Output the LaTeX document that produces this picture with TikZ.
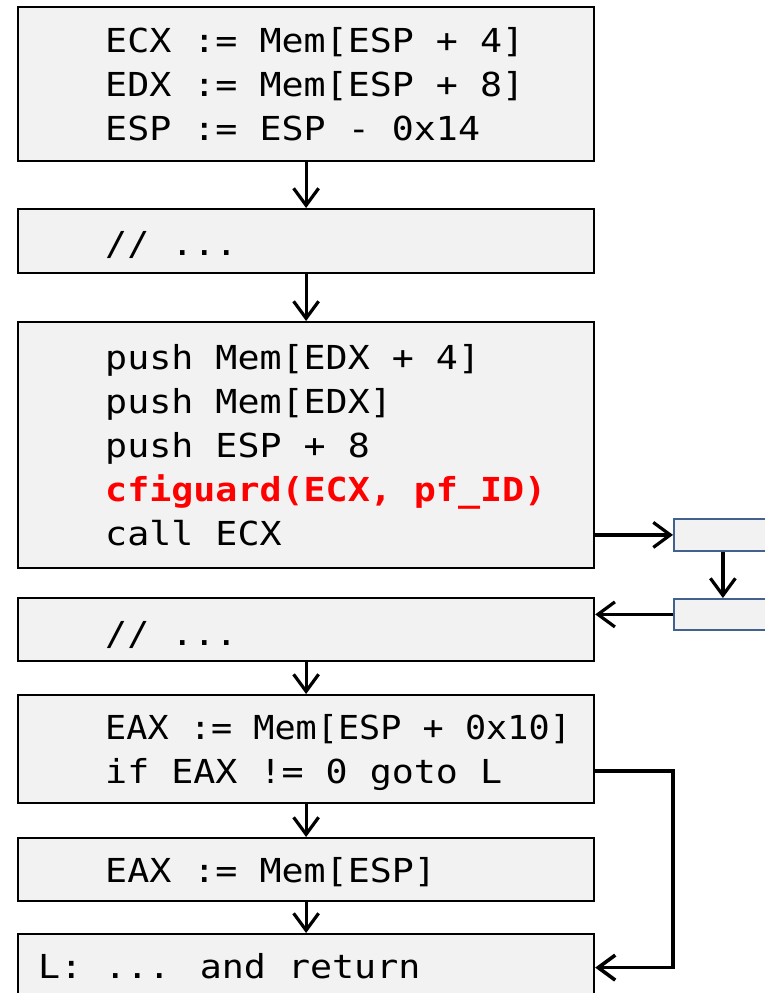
\documentclass[tikz,border=0pt]{standalone}
\usepackage{fontspec}
\usepackage{graphicx}
\usetikzlibrary{arrows.meta}
\newfontfamily\codefont[FakeStretch=1.11]{DejaVu Sans Mono}
\definecolor{boxfill}{HTML}{F2F2F2}
\definecolor{callborder}{HTML}{41618F}
\definecolor{guardred}{HTML}{FF0000}
\begin{document}
\begin{tikzpicture}[x=1pt,y=-1pt,
  block/.style={draw=black, fill=boxfill, line width=2.2pt, minimum width=576pt,
    inner sep=0pt, anchor=north west},
  callbox/.style={draw=callborder, fill=boxfill, line width=1.8pt, minimum width=98pt,
    minimum height=32pt, inner sep=0pt, anchor=north west},
  code/.style={anchor=base west, inner sep=0pt, font=\codefont\fontsize{33}{44}\selectfont},
  arr/.style={line width=3.2pt, -{Straight Barb[length=17pt,width=25pt]}}
]
\useasboundingbox (0,0) rectangle (765,993);
\clip (0,0) rectangle (765,993);

% basic blocks
\node[block, minimum height=154pt] (b1) at (17,6) {};
\node[block, minimum height=64pt]  (b2) at (17,208) {};
\node[block, minimum height=246pt] (b3) at (17,321) {};
\node[block, minimum height=63pt]  (b4) at (17,597) {};
\node[block, minimum height=108pt] (b5) at (17,694) {};
\node[block, minimum height=63pt]  (b6) at (17,837) {};
\node[block, minimum height=67pt]  (b7) at (17,933) {};

% callee blocks
\node[callbox] (ca) at (673,518) {};
\node[callbox, minimum height=31pt] (cb) at (673,598) {};

% code lines
\node[code] (t11) at (105,52)  {ECX := Mem[ESP + 4]};
\node[code] (t12) at (105,96)  {EDX := Mem[ESP + 8]};
\node[code] (t13) at (105,140) {ESP := ESP - 0x14};
\node[code] (t21) at (105,255) {// ...};
\node[code] (t31) at (105,369) {push Mem[EDX + 4]};
\node[code] (t32) at (105,413) {push Mem[EDX]};
\node[code] (t33) at (105,457) {push ESP + 8};
\node[code, text=guardred, font=\codefont\bfseries\fontsize{33}{44}\selectfont] (t34) at (105,501) {cfiguard(ECX, pf\_ID)};
\node[code] (t35) at (105,545) {call ECX};
\node[code] (t41) at (105,645) {// ...};
\node[code] (t51) at (105,739) {\scalebox{0.96}[1]{EAX := Mem[ESP + 0x10]}};
\node[code] (t52) at (105,783) {if EAX != 0 goto L};
\node[code] (t61) at (105,882) {EAX := Mem[ESP]};
\node[code] (t71) at (38,978)  {L: ... and return};

% control flow
\draw[arr] (b1.south) -- (b2.north);
\draw[arr] (b2.south) -- (b3.north);
\draw[arr] (ca.west -| b3.east) -- (ca.west);
\draw[arr] (ca.south) -- (cb.north);
\draw[arr] (cb.west) -- (cb.west -| b4.east);
\draw[arr] (b4.south) -- (b5.north);
\draw[arr] (b5.south) -- (b6.north);
\draw[arr] (b6.south) -- (b7.north);
\coordinate (jmp) at (673,771);
\draw[arr, line width=3.6pt] (jmp -| b5.east) -- (jmp) -- (jmp |- b7.east) -- (b7.east);
\end{tikzpicture}
\end{document}
